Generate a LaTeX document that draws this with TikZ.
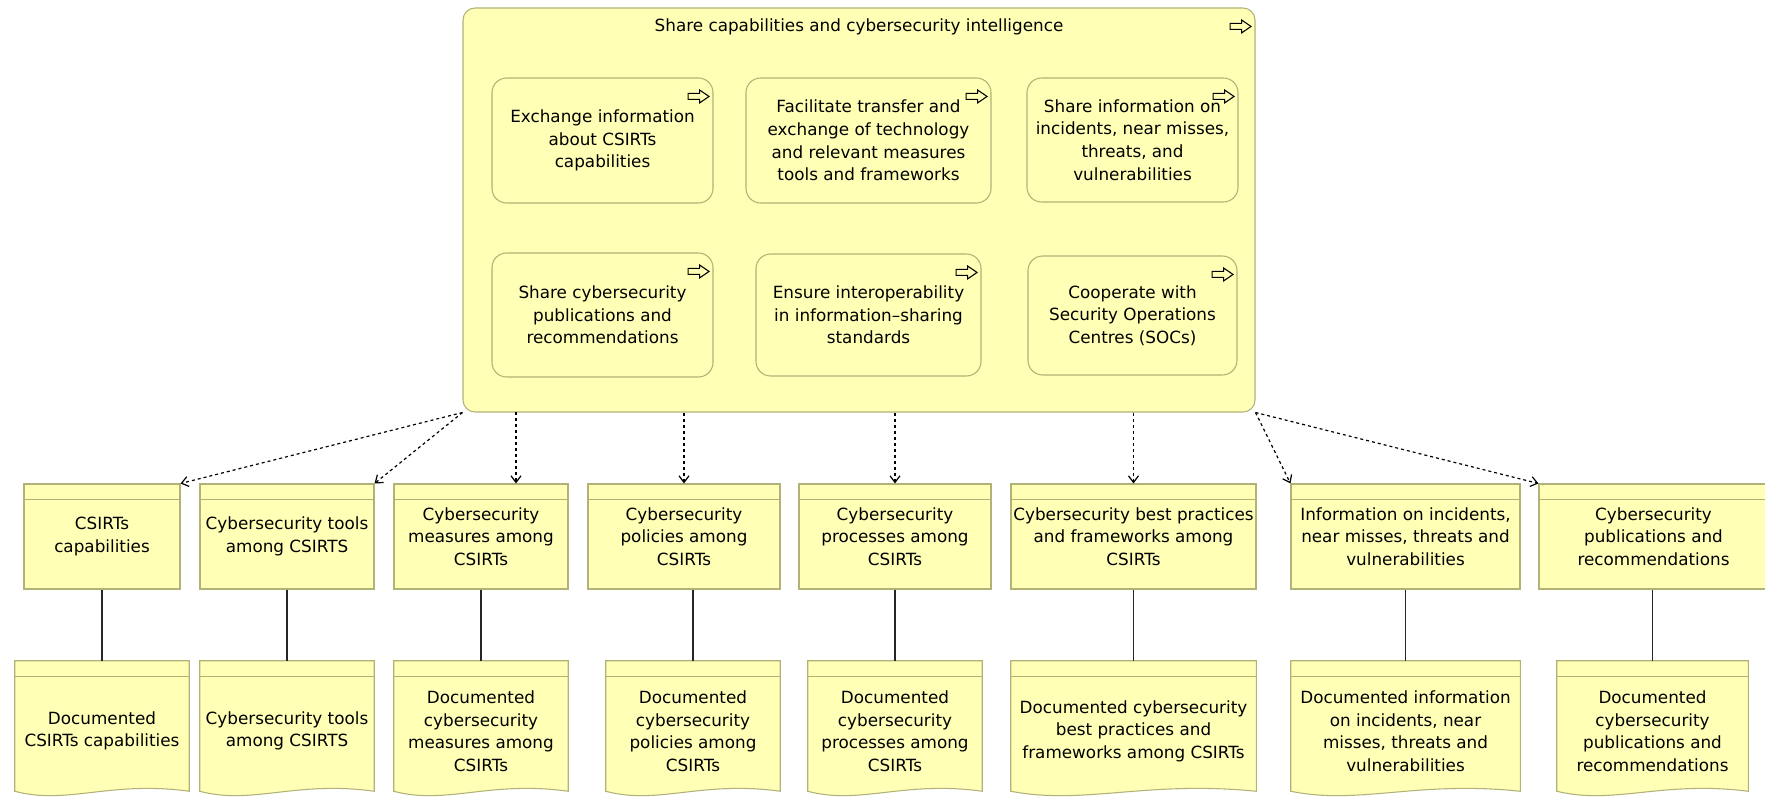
\documentclass[tikz,border=0pt]{standalone}
\usepackage{fontspec}
\setmainfont{DejaVu Sans}
\usetikzlibrary{positioning,arrows.meta,calc,backgrounds}

\definecolor{bizfill}{RGB}{255,255,181}
\definecolor{bizline}{RGB}{178,178,120}
\newdimen\unitpx \unitpx=0.75pt

\begin{document}
\begin{tikzpicture}[
		x=0.75pt, y=-0.75pt,
		dims/.style 2 args={minimum width=#1\unitpx, minimum height=#2\unitpx},
		txt/.style={font=\fontsize{12.6}{16.9}\selectfont, align=center, inner sep=0pt},
		bigbox/.style={draw=bizline, fill=bizfill, line width=0.8pt, rounded corners=9pt},
		actbox/.style={txt, draw=bizline, fill=bizfill, line width=0.8pt, rounded corners=11pt},
		objbox/.style={txt, draw=bizline, fill=bizfill, line width=0.8pt},
		repbox/.style={inner sep=0pt},
		reptext/.style={txt, yshift=-3.75pt},
		access/.style={line width=0.9pt, dash pattern=on 2.25pt off 2.25pt,
				-{Straight Barb[length=5pt,width=7.5pt]}},
		assoc/.style={line width=1.1pt, draw=black!85},
		procicon/.pic={\draw[line width=0.8pt, fill=bizfill]
				(-10.5,-3) -- (1,-3) -- (1,-6.5) -- (10.5,0) -- (1,6.5) -- (1,3) -- (-10.5,3) -- cycle;}
	]

	\useasboundingbox (0,0) rectangle (1765,798);

	% the function and what it is made of
	\node[bigbox, dims={792}{404}] (bigbox) at (859,210) {};
	\node[txt, below=8.25pt of bigbox.north] (title)
	{Share capabilities and cybersecurity intelligence};

	\node[actbox, dims={221}{125}] (a1) at (602.5,140.5)
	{Exchange information\\about CSIRTs\\capabilities};
	\node[actbox, dims={245}{125}] (a2) at (868.5,140.5)
	{Facilitate transfer and\\exchange of technology\\and relevant measures\\tools and frameworks};
	\node[actbox, dims={211}{124}] (a3) at (1132.5,140)
	{Share information on\\incidents, near misses,\\threats, and\\vulnerabilities};
	\node[actbox, dims={221}{124}] (a4) at (602.5,315)
	{Share cybersecurity\\publications and\\recommendations};
	\node[actbox, dims={225}{122}] (a5) at (868.5,315)
	{Ensure interoperability\\in information–sharing\\standards};
	\node[actbox, dims={209}{119}] (a6) at (1132.5,315.5)
	{Cooperate with\\Security Operations\\Centres (SOCs)};

	\foreach \n in {bigbox,a1,a2,a3,a4,a5,a6}
	\pic at ($(\n.north east)+(-15,19)$) {procicon};

	% business objects
	\node[objbox, dims={156}{105}] (o1) at (102,536.5) {CSIRTs\\capabilities};
	\node[objbox, dims={174}{105}] (o2) at (287,536.5) {Cybersecurity tools\\among CSIRTS};
	\node[objbox, dims={174}{105}] (o3) at (481,536.5) {Cybersecurity\\measures among\\CSIRTs};
	\node[objbox, dims={192}{105}] (o4) at (684,536.5) {Cybersecurity\\policies among\\CSIRTs};
	\node[objbox, dims={192}{105}] (o5) at (895,536.5) {Cybersecurity\\processes among\\CSIRTs};
	\node[objbox, dims={245}{105}] (o6) at (1133.5,536.5)
	{Cybersecurity best practices\\and frameworks among\\CSIRTs};
	\node[objbox, dims={229}{105}] (o7) at (1405.5,536.5)
	{Information on incidents,\\near misses, threats and\\vulnerabilities};
	\node[objbox, dims={229}{105}] (o8) at (1653.5,536.5)
	{Cybersecurity\\publications and\\recommendations};

	\foreach \i in {1,...,8}
	\draw[bizline, line width=0.8pt] ($(o\i.north west)+(0,16)$) -- ($(o\i.north east)+(0,16)$);

	% representations
	\node[repbox, dims={174}{130}, label={[reptext]center:Documented\\CSIRTs capabilities}] (r1) at (102,726) {};
	\node[repbox, dims={174}{130}, label={[reptext]center:Cybersecurity tools\\among CSIRTS}] (r2) at (287,726) {};
	\node[repbox, dims={174}{130}, label={[reptext]center:Documented\\cybersecurity\\measures among\\CSIRTs}] (r3) at (481,726) {};
	\node[repbox, dims={174}{130}, label={[reptext]center:Documented\\cybersecurity\\policies among\\CSIRTs}] (r4) at (693,726) {};
	\node[repbox, dims={174}{130}, label={[reptext]center:Documented\\cybersecurity\\processes among\\CSIRTs}] (r5) at (895,726) {};
	\node[repbox, dims={245}{130}, label={[reptext]center:Documented cybersecurity\\best practices and\\frameworks among CSIRTs}] (r6) at (1133.5,726) {};
	\node[repbox, dims={229}{130}, label={[reptext]center:Documented information\\on incidents, near\\misses, threats and\\vulnerabilities}] (r7) at (1405.5,726) {};
	\node[repbox, dims={191}{130}, label={[reptext]center:Documented\\cybersecurity\\publications and\\recommendations}] (r8) at (1652.5,726) {};

	\begin{scope}[on background layer]
		\foreach \i in {1,...,8} {
				\filldraw[fill=bizfill, draw=bizline, line width=0.8pt]
				(r\i.north west) -- (r\i.north east) -- (r\i.south east)
				.. controls ($(r\i.south west)!0.55!(r\i.south east)+(0,-11)$)
				and ($(r\i.south west)!0.3!(r\i.south east)+(0,14)$) .. (r\i.south west) -- cycle;
				\draw[bizline, line width=0.8pt] ($(r\i.north west)+(0,16)$) -- ($(r\i.north east)+(0,16)$);
			}
	\end{scope}

	% access relations
	\coordinate (tap3) at (516,412);
	\draw[access] (bigbox.south west) -- (o1.north east);
	\draw[access] (bigbox.south west) -- (o2.north east);
	\draw[access] (tap3) -- (tap3 |- o3.north);
	\draw[access] (bigbox.south -| o4.north) -- (o4.north);
	\draw[access] (bigbox.south -| o5.north) -- (o5.north);
	\draw[access] (bigbox.south -| o6.north) -- (o6.north);
	\draw[access] (bigbox.south east) -- (o7.north west);
	\draw[access] (bigbox.south east) -- (o8.north west);

	% realised by
	\foreach \i in {1,...,8}
	\draw[assoc] (o\i.south -| r\i.north) -- (r\i.north);

\end{tikzpicture}
\end{document}
